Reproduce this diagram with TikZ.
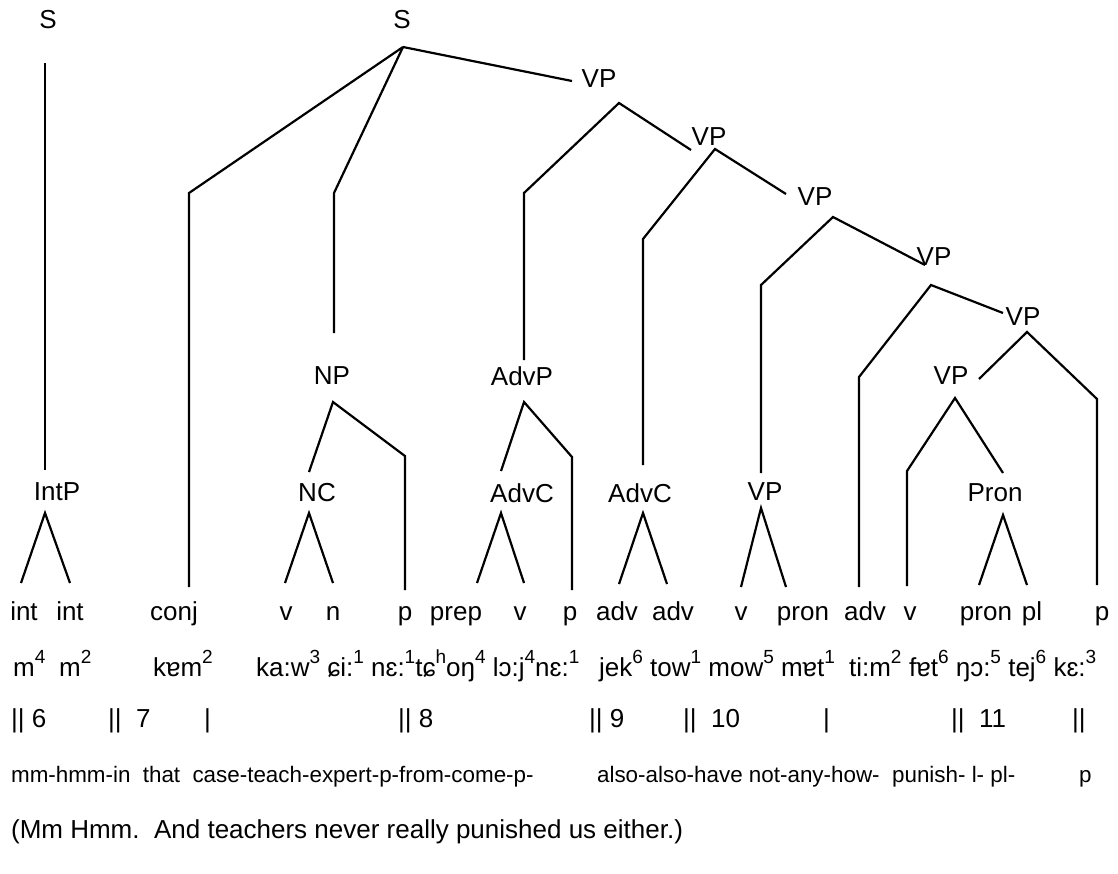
\documentclass[tikz,border=0pt]{standalone}
\usepackage{fontspec}
\setmainfont{Liberation Sans}
\newcommand\tn[1]{\raisebox{0.48em}{\fontsize{9.5}{9.5}\selectfont #1}}
\begin{document}
\begin{tikzpicture}[x=0.5pt,y=-0.5pt,line width=1.1pt,
  lbl/.style={font=\fontsize{13}{15}\selectfont,inner sep=0pt},
  wrd/.style={font=\fontsize{13}{15}\selectfont,inner sep=0pt,anchor=base},
  wl/.style={font=\fontsize{13}{15}\selectfont,inner sep=0pt,anchor=base west},
  gl/.style={font=\fontsize{11.2}{13}\selectfont,inner sep=0pt,anchor=base west}]
\useasboundingbox (0,0) rectangle (1118,873);
% ---------- left S ----------
\node[lbl] (S1) at (48,20) {S};
\coordinate (S1b) at (45,63);
\node[lbl] (IntP) at (57,492) {IntP};
\coordinate (IntPt) at (45,470);
\draw (S1b) -- (IntPt);
\coordinate (IntPa) at (45,513);
\coordinate (i1t) at (21,583);
\coordinate (i2t) at (70,583);
\draw (i1t) -- (IntPa) -- (i2t);
% ---------- main S ----------
\node[lbl] (S2) at (402,20) {S};
\coordinate (S2a) at (403,47);
\coordinate (cjk) at (189,193);
\coordinate (cjb) at (189,587);
\draw (S2a) -- (cjk) -- (cjb);
\coordinate (npk) at (334,193);
\coordinate (npt) at (334,333);
\draw (S2a) -- (npk) -- (npt);
\coordinate (vp1e) at (572,81);
\draw (S2a) -- (vp1e);
% NP
\node[lbl] (NP) at (332,376) {NP};
\coordinate (NPa) at (333,402);
\coordinate (NPl) at (309,472);
\coordinate (NPr) at (405,456);
\coordinate (NPb) at (405,590);
\draw (NPl) -- (NPa) -- (NPr) -- (NPb);
\node[lbl] (NC) at (317,493) {NC};
\coordinate (NCa) at (309,513);
\coordinate (nc1) at (285,583);
\coordinate (nc2) at (333,583);
\draw (nc1) -- (NCa) -- (nc2);
% VP1
\node[lbl] (VP1) at (599,79) {VP};
\coordinate (VP1a) at (619,103);
\coordinate (avk) at (524,193);
\coordinate (avt) at (524,360);
\coordinate (vp1r) at (691,150);
\draw (avt) -- (avk) -- (VP1a) -- (vp1r);
% AdvP
\node[lbl] (AdvP) at (522,376) {AdvP};
\coordinate (AdvPa) at (524,402);
\coordinate (AdvPl) at (501,471);
\coordinate (AdvPr) at (572,457);
\coordinate (AdvPb) at (572,590);
\draw (AdvPl) -- (AdvPa) -- (AdvPr) -- (AdvPb);
\node[lbl] (AdvCa) at (522,493) {AdvC};
\coordinate (AdvCaa) at (501,513);
\coordinate (ac1) at (477,583);
\coordinate (ac2) at (524,583);
\draw (ac1) -- (AdvCaa) -- (ac2);
% VP2
\node[lbl] (VP2) at (709,137) {VP};
\coordinate (VP2a) at (715,149);
\coordinate (vp2k) at (643,239);
\coordinate (vp2b) at (643,465);
\coordinate (vp2r) at (786,194);
\draw (vp2b) -- (vp2k) -- (VP2a) -- (vp2r);
\node[lbl] (AdvCb) at (640,493) {AdvC};
\coordinate (AdvCba) at (643,513);
\coordinate (bc1) at (619,584);
\coordinate (bc2) at (667,584);
\draw (bc1) -- (AdvCba) -- (bc2);
% VP3
\node[lbl] (VP3) at (815,197) {VP};
\coordinate (VP3a) at (833,217);
\coordinate (vp3k) at (761,285);
\coordinate (vp3b) at (761,473);
\coordinate (vp3r) at (925,265);
\draw (vp3b) -- (vp3k) -- (VP3a) -- (vp3r);
\node[lbl] (VPx) at (765,492) {VP};
\coordinate (VPxa) at (761,508);
\coordinate (xc1) at (741,587);
\coordinate (xc2) at (786,587);
\draw (xc1) -- (VPxa) -- (xc2);
% VP4
\node[lbl] (VP4) at (934,257) {VP};
\coordinate (VP4a) at (931,285);
\coordinate (vp4k) at (859,377);
\coordinate (vp4b) at (859,587);
\coordinate (vp4r) at (1003,313);
\draw (vp4b) -- (vp4k) -- (VP4a) -- (vp4r);
% VP5
\node[lbl] (VP5) at (1023,317) {VP};
\coordinate (VP5a) at (1027,332);
\coordinate (vp5l) at (979,379);
\coordinate (vp5k) at (1097,399);
\coordinate (vp5b) at (1097,585);
\draw (vp5l) -- (VP5a) -- (vp5k) -- (vp5b);
% VP6
\node[lbl] (VP6) at (951,376) {VP};
\coordinate (VP6a) at (955,398);
\coordinate (vp6k) at (907,471);
\coordinate (vp6b) at (907,586);
\coordinate (vp6r) at (1003,473);
\draw (vp6b) -- (vp6k) -- (VP6a) -- (vp6r);
\node[lbl] (Pron) at (995,493) {Pron};
\coordinate (Prona) at (1003,515);
\coordinate (pc1) at (979,585);
\coordinate (pc2) at (1027,585);
\draw (pc1) -- (Prona) -- (pc2);
% ---------- word class row ----------
\node[wrd] (w1) at (24,620) {int};
\node[wrd] (w2) at (70,620) {int};
\node[wrd] (w3) at (174,620) {conj};
\node[wrd] (w4) at (286,620) {v};
\node[wrd] (w5) at (333,620) {n};
\node[wrd] (w6) at (405,620) {p};
\node[wrd] (w7) at (456,620) {prep};
\node[wrd] (w8) at (520,620) {v};
\node[wrd] (w9) at (570,620) {p};
\node[wrd] (w10) at (617,620) {adv};
\node[wrd] (w11) at (673,620) {adv};
\node[wrd] (w12) at (741,620) {v};
\node[wrd] (w13) at (803,620) {pron};
\node[wrd] (w14) at (865,620) {adv};
\node[wrd] (w15) at (910,620) {v};
\node[wrd] (w16) at (986,620) {pron};
\node[wrd] (w17) at (1032,620) {pl};
\node[wrd] (w18) at (1102,620) {p};
% ---------- phonetic row ----------
\node[wl] (t1) at (12,676) {m\tn{4}};
\node[wl] (t2) at (58,676) {m\tn{2}};
\node[wl] (t3) at (152,676) {kɐm\tn{2}};
\node[wl] (t4) at (255,676) {ka:w\tn{3} ɕi:\tn{1} nɛ:\tn{1}tɕ\tn{h}oŋ\tn{4} lɔ:j\tn{4}nɛ:\tn{1}};
\node[wl] (t5) at (598,676) {jek\tn{6} tow\tn{1} mow\tn{5} mɐt\tn{1}};
\node[wl] (t6) at (848,676) {ti:m\tn{2}};
\node[wl] (t7) at (908,676) {fɐt\tn{6} ŋɔ:\tn{5} tej\tn{6} kɛ:\tn{3}};
% ---------- boundary row ----------
\node[wl] (b1) at (10,727) {|| 6};
\node[wl] (b2) at (107,727) {||\ \ 7};
\node[wl] (b3) at (203,727) {|};
\node[wl] (b4) at (397,727) {|| 8};
\node[wl] (b5) at (588,727) {|| 9};
\node[wl] (b6) at (682,727) {||\ \ 10};
\node[wl] (b7) at (822,727) {|};
\node[wl] (b8) at (950,727) {||\ \ 11};
\node[wl] (b9) at (1071,727) {||};
% ---------- gloss row ----------
\node[gl] (g1) at (10,782) {mm-hmm-in\hspace{0.55em}that\hspace{0.55em}case-teach-expert-p-from-come-p-};
\node[gl] (g2) at (596,782) {also-also-have not-any-how-};
\node[gl] (g3) at (891,782) {punish- l- pl-};
\node[gl] (g4) at (1078,782) {p};
% ---------- free translation ----------
\node[wl] (tr) at (10,838) {(Mm Hmm.\ \ And teachers never really punished us either.)};
\end{tikzpicture}
\end{document}
